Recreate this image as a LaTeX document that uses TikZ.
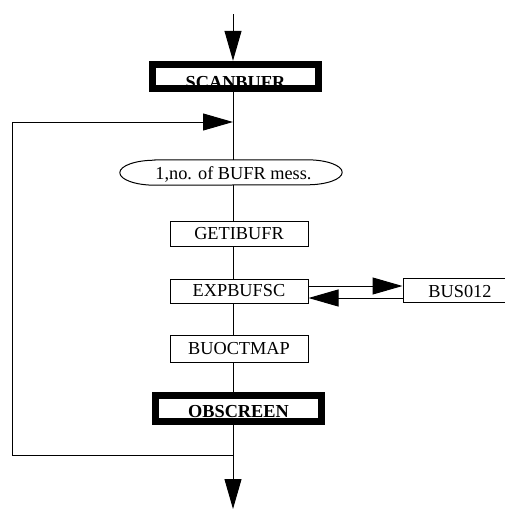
\documentclass[tikz,border=0pt]{standalone}
\usepackage{fontspec}
\setmainfont{Liberation Serif}
\usetikzlibrary{arrows.meta}
\begin{document}
\begin{tikzpicture}[x=1pt,y=-1pt,
  txt/.style={font=\fontsize{18.3}{20}\selectfont},
  plain/.style={draw, line width=1pt, inner sep=0pt, txt},
  arr/.style={line width=1pt, -{Triangle[length=30pt,width=17pt]}},
  thin/.style={line width=1pt}]
\useasboundingbox (0,0) rectangle (504,509);
% reference x for the main flow line
\coordinate (top) at (233,14);
% SCANBUFR (thick frame drawn over its text)
\node[inner sep=0pt, minimum width=173pt, minimum height=31pt] (scan) at (235.5,76.5) {};
\node[txt, font=\fontsize{18.3}{20}\selectfont\bfseries, anchor=base, inner sep=0pt] (scant) at (235.5,88) {SCANBUFR};
\draw[line width=7pt] ([xshift=3.5pt,yshift=-3.5pt]scan.north west) rectangle ([xshift=-3.5pt,yshift=3.5pt]scan.south east);
% oval
\node[inner sep=0pt, minimum width=222pt, minimum height=25pt] (oval) at (231,172.5) {};
\node[txt, inner sep=0pt] (ovalt) at (233.5,174) {1,no. of BUFR mess.};
\draw[thin] ([xshift=35pt]oval.north west) -- ([xshift=-35pt]oval.north east)
  arc[start angle=90, end angle=-90, x radius=35pt, y radius=12.5pt]
  -- ([xshift=35pt]oval.south west)
  arc[start angle=270, end angle=90, x radius=35pt, y radius=12.5pt] -- cycle;
% boxes
\node[plain, minimum width=138pt, minimum height=25pt] (get) at (239,233.5) {GETIBUFR};
\node[plain, minimum width=138pt, minimum height=24pt] (exp) at (239,291) {EXPBUFSC};
\node[plain, minimum width=104pt, minimum height=24pt, text depth=0pt] (bus) at (455,290) {};
\node[txt, inner sep=0pt] (bust) at (460,291) {BUS012};
\node[plain, minimum width=138pt, minimum height=27pt] (buo) at (239,348.5) {BUOCTMAP};
% OBSCREEN
\node[inner sep=0pt, minimum width=173pt, minimum height=33pt] (obs) at (238.5,408.5) {};
\node[txt, font=\fontsize{18.3}{20}\selectfont\bfseries, anchor=base, inner sep=0pt] (obst) at (238.5,417.5) {OBSCREEN};
\draw[line width=7pt] ([xshift=3.5pt,yshift=-3.5pt]obs.north west) rectangle ([xshift=-3.5pt,yshift=3.5pt]obs.south east);
% loop coordinates
\coordinate (loopin) at (233,122);
\coordinate (lt) at (12,122);
\coordinate (lb) at (12,455);
\coordinate (bj) at (233,455);
\coordinate (bot) at (233,509);
% connectors
\draw[arr] (top) -- (top |- scan.north);
\draw[thin] (top |- scan.south) -- (top |- oval.north);
\draw[arr] (bj) -- (lb) -- (lt) -- (loopin);
\draw[thin] (top |- oval.south) -- (top |- get.north);
\draw[thin] (top |- get.south) -- (top |- exp.north);
\draw[thin] (top |- exp.south) -- (top |- buo.north);
\draw[thin] (top |- buo.south) -- (top |- obs.north);
\draw[arr] (top |- obs.south) -- (bot);
\draw[arr] ([yshift=5pt]exp.east) -- ([yshift=5pt]exp.east -| bus.west);
\draw[arr] ([yshift=-8pt]bus.west) -- ([yshift=-8pt]bus.west -| exp.east);
\end{tikzpicture}
\end{document}
